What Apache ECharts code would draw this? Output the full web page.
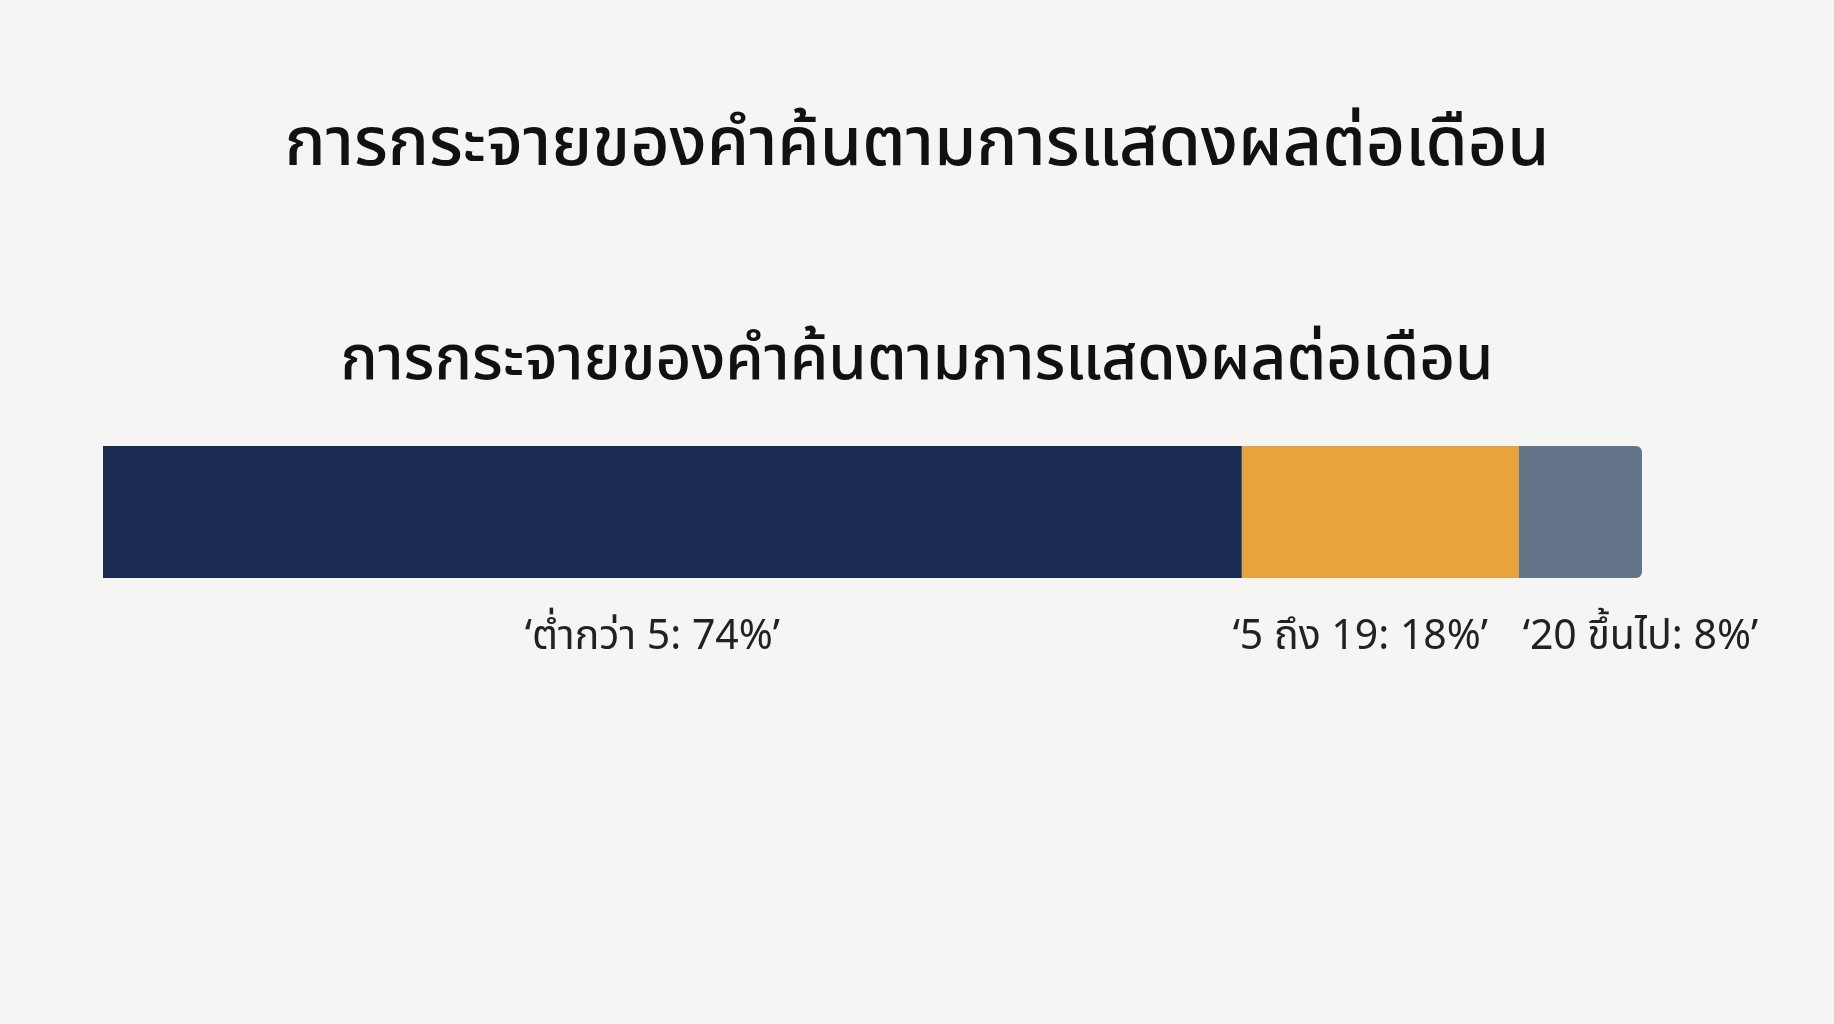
<!DOCTYPE html>
<html><head><meta charset="utf-8">
<script src="https://cdn.jsdelivr.net/npm/echarts@6/dist/echarts.min.js"></script>
<style>html,body{margin:0;background:#f5f5f3}#c{width:1834px;height:1024px}</style>
</head><body><div id="c"></div>
<script>
const mainTitle = 'การกระจายของคำค้นตามการแสดงผลต่อเดือน';
const subTitle = 'การกระจายของคำค้นตามการแสดงผลต่อเดือน';
const categories = ['ต่ำกว่า 5', '5 ถึง 19', '20 ขึ้นไป'];
const values = [74, 18, 8];
const colors = ['#1b2d55', '#e8a33d', '#657589'];
const font = '"Noto Sans Thai","Noto Sans","DejaVu Sans",sans-serif';
const chart = echarts.init(document.getElementById('c'));
chart.setOption({
  backgroundColor: '#f5f5f3',
  title: [
    {text: mainTitle, left: 'center', top: 112, textStyle: {fontFamily: font, fontSize: 68, fontWeight: 500, color: '#111'}},
    {text: subTitle, left: 'center', top: 330, textStyle: {fontFamily: font, fontSize: 62, fontWeight: 500, color: '#111'}}
  ],
  grid: {left: 103, right: 192, top: 446, height: 132},
  xAxis: {type: 'value', min: 0, max: 100, show: false},
  yAxis: {type: 'category', data: ['x'], show: false},
  series: values.map((v, i) => ({
    type: 'bar', stack: 's', barWidth: 132, data: [v],
    itemStyle: {color: colors[i], borderRadius: i === values.length - 1 ? [0, 6, 6, 0] : 0},
    label: {show: true, position: 'bottom', distance: 42, offset: [i === 2 ? 60 : -20, 0],
      formatter: '‘' + categories[i] + ': ' + v + '%’',
      fontFamily: font, fontSize: 41, color: '#222'}
  }))
});
</script></body></html>
